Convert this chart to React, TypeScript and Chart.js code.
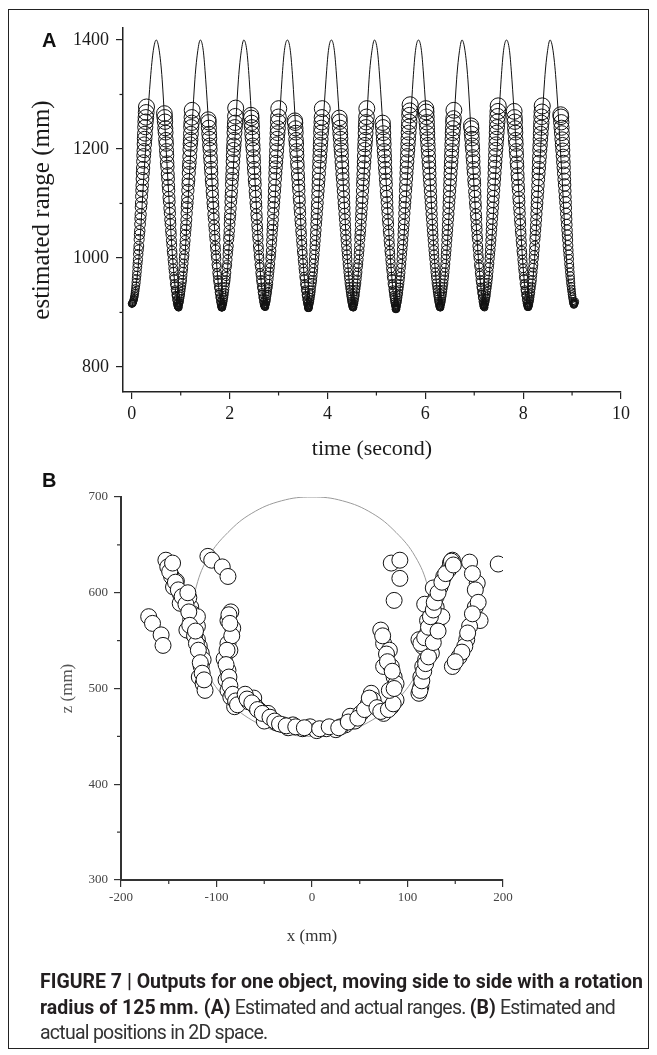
import React, { useEffect, useRef } from "react";
import { Chart, registerables } from "chart.js";

Chart.register(...registerables);

// ---------------- Panel A: range vs time ----------------
// actual range (line)
const lineTime = [
  0.0, 0.13, 0.25, 0.38, 0.44, 0.5, 0.56, 0.62, 0.73, 0.85, 0.96,
  1.07, 1.18, 1.29, 1.35, 1.4, 1.46, 1.51, 1.63, 1.74, 1.85,
  1.96, 2.07, 2.18, 2.24, 2.29, 2.35, 2.4, 2.51, 2.62, 2.73,
  2.84, 2.96, 3.07, 3.12, 3.18, 3.24, 3.29, 3.4, 3.51, 3.62,
  3.74, 3.85, 3.97, 4.02, 4.08, 4.14, 4.19, 4.31, 4.42, 4.53,
  4.64, 4.75, 4.85, 4.91, 4.96, 5.02, 5.07, 5.19, 5.3, 5.41,
  5.52, 5.64, 5.75, 5.8, 5.86, 5.92, 5.97, 6.09, 6.2, 6.31,
  6.42, 6.53, 6.64, 6.7, 6.75, 6.81, 6.87, 6.98, 7.1, 7.21,
  7.32, 7.44, 7.55, 7.6, 7.66, 7.72, 7.77, 7.89, 8.0, 8.11,
  8.22, 8.33, 8.44, 8.5, 8.55, 8.61, 8.67, 8.79, 8.9, 9.02,
];
const lineRange = [
  908, 982, 1155, 1328, 1381, 1400, 1381, 1328, 1155, 982, 907,
  982, 1155, 1328, 1381, 1400, 1381, 1328, 1155, 982, 906,
  982, 1155, 1328, 1381, 1400, 1381, 1328, 1155, 982, 908,
  982, 1155, 1328, 1381, 1400, 1381, 1328, 1155, 982, 905,
  982, 1155, 1328, 1381, 1400, 1381, 1328, 1155, 982, 907,
  982, 1155, 1328, 1381, 1400, 1381, 1328, 1155, 982, 903,
  982, 1155, 1328, 1381, 1400, 1381, 1328, 1155, 982, 907,
  982, 1155, 1328, 1381, 1400, 1381, 1328, 1155, 982, 907,
  982, 1155, 1328, 1381, 1400, 1381, 1328, 1155, 982, 906,
  982, 1155, 1328, 1381, 1400, 1381, 1328, 1155, 982, 908,
];

// estimated range (circles): each sweep is a run of samples taken every SAMPLE_INTERVAL s
const SAMPLE_INTERVAL = 0.00625;
const sweepStart = [
  0.0, 0.666, 0.94, 1.563, 1.83, 2.436, 2.71, 3.333, 3.6, 4.243,
  4.51, 5.129, 5.39, 6.01, 6.29, 6.935, 7.19, 7.816, 8.09, 8.766,
];
const sweepRange = [
  [916, 916, 917, 918, 919, 921, 923, 925, 928, 931, 935, 939, 944, 949, 955, 962, 968, 975, 983, 990, 997, 1007, 1015, 1022, 1034, 1043, 1050, 1062, 1072, 1080, 1093, 1101, 1113, 1124, 1133, 1145, 1156, 1165, 1177, 1188, 1197, 1209, 1219, 1228, 1240, 1250, 1258, 1267, 1277],
  [1265, 1258, 1250, 1238, 1230, 1217, 1209, 1197, 1188, 1175, 1167, 1154, 1145, 1133, 1124, 1111, 1103, 1091, 1082, 1070, 1062, 1050, 1043, 1032, 1024, 1013, 1007, 997, 990, 981, 975, 966, 962, 953, 949, 942, 939, 932, 930, 924, 922, 917, 916, 913, 911, 910, 909, 909],
  [911, 911, 912, 913, 915, 917, 919, 922, 926, 930, 934, 939, 944, 949, 955, 960, 968, 975, 981, 990, 999, 1005, 1015, 1024, 1032, 1043, 1052, 1060, 1070, 1082, 1093, 1101, 1111, 1124, 1135, 1143, 1156, 1167, 1175, 1186, 1199, 1209, 1217, 1228, 1240, 1248, 1258, 1271],
  [1254, 1249, 1239, 1228, 1219, 1207, 1199, 1186, 1177, 1165, 1156, 1143, 1135, 1122, 1113, 1101, 1093, 1080, 1072, 1060, 1052, 1041, 1034, 1022, 1015, 1005, 999, 988, 983, 973, 968, 960, 955, 947, 944, 937, 934, 928, 926, 920, 919, 915, 913, 911, 910, 909, 909],
  [909, 909, 910, 911, 913, 915, 917, 920, 924, 928, 932, 937, 942, 948, 955, 960, 966, 973, 983, 988, 997, 1007, 1015, 1022, 1034, 1041, 1050, 1062, 1072, 1080, 1091, 1103, 1113, 1122, 1135, 1145, 1154, 1165, 1177, 1188, 1199, 1207, 1217, 1230, 1240, 1248, 1260, 1275],
  [1262, 1257, 1248, 1240, 1228, 1219, 1207, 1199, 1186, 1177, 1165, 1156, 1143, 1135, 1122, 1113, 1101, 1093, 1080, 1072, 1060, 1052, 1041, 1034, 1022, 1015, 1005, 999, 988, 983, 973, 968, 960, 955, 947, 944, 937, 934, 928, 926, 920, 919, 915, 914, 912, 911, 910, 910],
  [911, 911, 912, 913, 915, 916, 919, 921, 925, 930, 934, 938, 944, 947, 953, 961, 968, 975, 982, 989, 999, 1005, 1013, 1024, 1033, 1043, 1052, 1060, 1070, 1082, 1093, 1102, 1112, 1123, 1133, 1145, 1156, 1166, 1176, 1186, 1197, 1209, 1219, 1229, 1238, 1250, 1259, 1274],
  [1252, 1248, 1238, 1230, 1217, 1209, 1197, 1188, 1175, 1167, 1154, 1145, 1133, 1124, 1111, 1103, 1091, 1082, 1070, 1062, 1050, 1043, 1032, 1024, 1013, 1007, 997, 990, 981, 975, 966, 962, 953, 949, 942, 939, 932, 930, 924, 922, 917, 916, 913, 911, 909, 908, 908],
  [908, 908, 909, 911, 913, 915, 918, 920, 924, 928, 933, 937, 942, 949, 955, 960, 967, 974, 981, 990, 998, 1006, 1015, 1023, 1032, 1042, 1051, 1062, 1071, 1081, 1092, 1101, 1113, 1123, 1134, 1144, 1155, 1167, 1177, 1187, 1198, 1208, 1218, 1230, 1239, 1249, 1258, 1274],
  [1257, 1250, 1239, 1228, 1219, 1207, 1198, 1188, 1176, 1166, 1154, 1145, 1134, 1123, 1112, 1101, 1092, 1081, 1071, 1061, 1052, 1042, 1033, 1023, 1014, 1006, 998, 989, 982, 974, 967, 961, 954, 948, 943, 938, 933, 929, 925, 921, 918, 916, 913, 912, 910, 909, 909],
  [910, 910, 911, 912, 914, 916, 917, 921, 925, 929, 932, 938, 943, 948, 954, 961, 968, 974, 983, 989, 997, 1006, 1014, 1023, 1034, 1042, 1050, 1061, 1072, 1081, 1091, 1102, 1111, 1123, 1135, 1144, 1154, 1166, 1176, 1187, 1199, 1208, 1217, 1229, 1240, 1249, 1259, 1274],
  [1248, 1240, 1229, 1218, 1209, 1197, 1187, 1177, 1165, 1156, 1144, 1135, 1122, 1113, 1102, 1091, 1082, 1070, 1062, 1050, 1043, 1032, 1024, 1013, 1007, 997, 990, 981, 975, 966, 962, 953, 949, 942, 938, 932, 928, 924, 920, 917, 914, 912, 910, 908, 907, 906],
  [906, 906, 907, 909, 911, 913, 917, 919, 923, 927, 932, 936, 942, 947, 953, 960, 966, 973, 982, 989, 998, 1007, 1016, 1024, 1033, 1043, 1052, 1061, 1071, 1082, 1093, 1102, 1112, 1124, 1134, 1145, 1156, 1166, 1177, 1188, 1198, 1209, 1219, 1230, 1241, 1250, 1262, 1270, 1281],
  [1274, 1268, 1259, 1249, 1239, 1229, 1218, 1208, 1198, 1187, 1176, 1166, 1155, 1144, 1134, 1123, 1112, 1102, 1092, 1081, 1071, 1061, 1051, 1042, 1033, 1023, 1014, 1006, 998, 989, 982, 974, 967, 961, 954, 948, 943, 938, 933, 929, 925, 921, 918, 916, 913, 911, 910, 909, 909],
  [910, 910, 911, 912, 914, 916, 918, 921, 925, 929, 933, 938, 943, 948, 954, 961, 967, 974, 982, 989, 998, 1006, 1014, 1023, 1033, 1042, 1051, 1061, 1071, 1081, 1092, 1102, 1112, 1123, 1134, 1144, 1155, 1166, 1176, 1187, 1197, 1208, 1218, 1229, 1238, 1249, 1256, 1271],
  [1243, 1238, 1228, 1219, 1207, 1199, 1186, 1177, 1165, 1156, 1143, 1135, 1122, 1113, 1101, 1093, 1080, 1072, 1060, 1052, 1041, 1034, 1022, 1015, 1005, 999, 988, 983, 973, 968, 960, 955, 947, 944, 937, 934, 928, 926, 920, 918, 915, 913, 911, 910, 909],
  [911, 911, 912, 913, 915, 917, 919, 922, 926, 929, 933, 939, 944, 949, 955, 961, 967, 975, 983, 990, 999, 1007, 1015, 1024, 1033, 1043, 1052, 1062, 1072, 1082, 1092, 1103, 1113, 1124, 1135, 1145, 1156, 1167, 1177, 1188, 1199, 1209, 1219, 1230, 1240, 1250, 1260, 1269, 1279],
  [1269, 1258, 1250, 1238, 1230, 1217, 1209, 1197, 1188, 1175, 1167, 1154, 1145, 1133, 1124, 1111, 1103, 1091, 1082, 1070, 1062, 1050, 1043, 1032, 1024, 1013, 1007, 997, 990, 981, 975, 966, 962, 953, 949, 942, 939, 932, 930, 924, 922, 917, 916, 913, 912, 911, 910, 910],
  [910, 910, 911, 912, 913, 915, 918, 921, 924, 928, 933, 937, 943, 948, 954, 960, 968, 974, 982, 988, 998, 1005, 1014, 1022, 1034, 1041, 1051, 1060, 1070, 1081, 1092, 1101, 1112, 1122, 1133, 1144, 1155, 1165, 1176, 1186, 1198, 1207, 1218, 1228, 1239, 1248, 1259, 1268, 1279],
  [1263, 1259, 1249, 1239, 1229, 1218, 1208, 1198, 1187, 1176, 1166, 1155, 1144, 1134, 1123, 1112, 1102, 1092, 1081, 1071, 1061, 1051, 1042, 1033, 1023, 1014, 1006, 998, 989, 982, 974, 967, 961, 954, 948, 943, 938, 933, 929, 925, 921, 918, 916, 914, 915, 916, 918, 920],
];
const timeTicks = [0, 2, 4, 6, 8, 10];
const timeMinorTicks = [1, 3, 5, 7, 9];
const rangeTicks = [800, 1000, 1200, 1400];
const rangeMinorTicks = [900, 1100, 1300];

// ---------------- Panel B: positions in 2D ----------------
// actual path (rotation radius 125 mm)
const pathX = [125, 121, 108, 88, 63, 32, 0, -32, -63, -88, -108, -121, -125, -121, -108, -88, -63, -32, 0, 32, 63, 88, 108, 121, 125];
const pathZ = [575, 607, 638, 663, 683, 696, 700, 696, 683, 663, 638, 607, 575, 543, 513, 487, 467, 454, 450, 454, 467, 487, 513, 543, 575];
// estimated positions
const estX = [
  -171, -167, -158, -156,
  -153, -151, -147, -145, -138, -134, -127, -125, -127, -125, -120, -118, -116, -114, -116, -118, -114, -112, -131, -120, -138, -120, -142, -129,
  -149, -143, -140, -136, -132, -129, -128, -123, -121, -119, -117, -115, -113, -122, -130, -146,
  -109, -105, -94, -88,
  -85, -88, -83, -88, -92, -88, -90, -88, -85, -81, -86, -84,
  -87, -86, -89, -90, -87, -86, -83, -80, -78,
  -61, -59, -46, -41, -37, -20, -2, 15, 35, 40, 51, 59, 62, 64, 75, 83, 88, -55, -48, -30, -10, 5, 25, 45, 30, -25, -50, -70, -66,
  -68, -63, -57, -52, -44, -39, -34, -27, -17, -8, 8, 18, 28, 38, 48, 55, 60, 68, 72, 80, 85,
  72, 75, 81, 75, 83, 86, 88, 81, 74, 78, 79, 84, 86,
  83, 92, 92, 86,
  112, 114, 114, 116, 119, 112, 116, 121, 121, 125, 130, 130, 134, 138, 143, 145, 147, 125, 130, 136, 118, 127,
  113, 115, 117, 119, 114, 118, 122, 124, 127, 128, 132, 136, 140, 146, 148, 122, 127, 132,
  165, 173, 171, 171, 176, 165, 162, 160, 154, 147, 195,
  168, 174, 168, 163, 157, 150,
];
const estZ = [
  575, 568, 556, 545,
  634, 627, 617, 606, 599, 592, 585, 578, 572, 558, 551, 544, 537, 530, 523, 512, 505, 498, 561, 565, 589, 575, 612, 595,
  622, 611, 603, 596, 588, 580, 566, 555, 547, 540, 527, 516, 509, 560, 600, 631,
  638, 634, 627, 617,
  580, 571, 563, 547, 531, 519, 509, 498, 491, 481, 540, 555,
  577, 568, 540, 525, 512, 503, 494, 487, 483,
  490, 481, 474, 467, 464, 462, 460, 458, 462, 471, 474, 484, 495, 488, 474, 481, 488, 477, 470, 462, 458, 456, 457, 466, 460, 459, 466, 494, 486,
  489, 485, 478, 474, 470, 466, 463, 461, 460, 459, 458, 460, 459, 465, 469, 478, 490, 480, 476, 478, 484,
  561, 547, 540, 523, 523, 512, 505, 498, 555, 536, 528, 518, 500,
  631, 634, 615, 592,
  495, 502, 512, 523, 530, 551, 544, 558, 571, 578, 585, 596, 606, 617, 624, 631, 634, 537, 565, 575, 588, 605,
  498, 508, 518, 526, 547, 553, 564, 575, 582, 590, 600, 611, 620, 633, 629, 533, 548, 560,
  632, 610, 603, 585, 571, 565, 551, 544, 533, 523, 630,
  620, 590, 578, 558, 538, 528,
];
const xTicks = [-200, -100, 0, 100, 200];
const xMinorTicks = [-150, -50, 50, 150];
const zTicks = [300, 400, 500, 600, 700];
const zMinorTicks = [350, 450, 550, 650];

const SERIF = '"Liberation Serif", "Times New Roman", serif';
const plainLabel = (v: any) => String(v);

const minorTickPlugin = {
  id: "minorTicks",
  afterDraw(chart: any, _args: any, opts: any) {
    const ctx = chart.ctx;
    const xs = chart.scales.x;
    const ys = chart.scales.y;
    ctx.save();
    ctx.strokeStyle = opts.color;
    ctx.lineWidth = opts.width;
    for (const v of opts.x) {
      const p = xs.getPixelForValue(v);
      ctx.beginPath();
      ctx.moveTo(p, xs.top);
      ctx.lineTo(p, xs.top + opts.length);
      ctx.stroke();
    }
    for (const v of opts.y) {
      const p = ys.getPixelForValue(v);
      ctx.beginPath();
      ctx.moveTo(ys.right - opts.length, p);
      ctx.lineTo(ys.right, p);
      ctx.stroke();
    }
    ctx.restore();
  },
};

function configA(): any {
  const linePts = lineTime.map((t, i) => ({ x: t, y: lineRange[i] }));
  const estPts: { x: number; y: number }[] = [];
  sweepRange.forEach((row, k) => {
    row.forEach((v, i) => {
      estPts.push({ x: sweepStart[k] + i * SAMPLE_INTERVAL, y: v });
    });
  });
  return {
    type: "scatter",
    data: {
      datasets: [
        {
          type: "line",
          data: linePts,
          showLine: true,
          borderColor: "#111",
          borderWidth: 1,
          pointRadius: 0,
          fill: false,
          cubicInterpolationMode: "monotone",
          order: 2,
        },
        {
          type: "scatter",
          data: estPts,
          borderColor: "#111",
          borderWidth: 1,
          backgroundColor: "rgba(255,255,255,0)",
          pointRadius: (c: any) => {
            const v = c.raw ? c.raw.y : 1000;
            return 3.5 + (4.5 * (v - 910)) / 365;
          },
          order: 1,
        },
      ],
    },
    options: {
      responsive: false,
      animation: false,
      devicePixelRatio: 1,
      events: [],
      layout: { padding: { left: 23, top: 28, right: 36, bottom: 8 } },
      plugins: {
        legend: { display: false },
        tooltip: { enabled: false },
        minorTicks: { x: timeMinorTicks, y: rangeMinorTicks, length: 3.5, color: "#222", width: 1.2 },
      },
      scales: {
        x: {
          type: "linear",
          min: -0.18,
          max: 10,
          afterBuildTicks: (s: any) => {
            s.ticks = timeTicks.map((v) => ({ value: v }));
          },
          afterFit: (s: any) => {
            s.height = 70;
          },
          grid: { drawOnChartArea: false, drawTicks: true, tickLength: 7, color: "#222", lineWidth: 1.2 },
          border: { display: true, color: "#222", width: 1.5 },
          ticks: { font: { family: SERIF, size: 18 }, color: "#1a1a1a", padding: 4, maxRotation: 0, autoSkip: false, callback: plainLabel },
          title: { display: true, text: "time (second)", font: { family: SERIF, size: 22 }, color: "#1a1a1a", padding: { top: 0, bottom: 0 } },
        },
        y: {
          type: "linear",
          min: 754,
          max: 1422,
          afterBuildTicks: (s: any) => {
            s.ticks = rangeTicks.map((v) => ({ value: v }));
          },
          afterFit: (s: any) => {
            s.width = 100;
          },
          grid: { drawOnChartArea: false, drawTicks: true, tickLength: 7, color: "#222", lineWidth: 1.2 },
          border: { display: true, color: "#222", width: 1.5 },
          ticks: { font: { family: SERIF, size: 18 }, color: "#1a1a1a", padding: 7, autoSkip: false, callback: plainLabel },
          title: { display: true, text: "estimated range (mm)", font: { family: SERIF, size: 25 }, color: "#1a1a1a", padding: { top: 4, bottom: 0 } },
        },
      },
    },
    plugins: [minorTickPlugin],
  };
}

function configB(): any {
  const pathPts = pathX.map((x, i) => ({ x, y: pathZ[i] }));
  const estPts = estX.map((x, i) => ({ x, y: estZ[i] }));
  return {
    type: "scatter",
    data: {
      datasets: [
        {
          type: "line",
          data: pathPts,
          showLine: true,
          borderColor: "#9a9a9a",
          borderWidth: 1,
          pointRadius: 0,
          fill: false,
          tension: 0.4,
          order: 2,
        },
        {
          type: "scatter",
          data: estPts,
          borderColor: "#111",
          borderWidth: 1,
          backgroundColor: "#ffffff",
          pointRadius: 8,
          clip: 0,
          order: 1,
        },
      ],
    },
    options: {
      responsive: false,
      animation: false,
      devicePixelRatio: 1,
      events: [],
      layout: { padding: { left: 50, top: 37, right: 154, bottom: 10 } },
      plugins: {
        legend: { display: false },
        tooltip: { enabled: false },
        minorTicks: { x: xMinorTicks, y: zMinorTicks, length: 4, color: "#333", width: 1.2 },
      },
      scales: {
        x: {
          type: "linear",
          min: -200,
          max: 200,
          afterBuildTicks: (s: any) => {
            s.ticks = xTicks.map((v) => ({ value: v }));
          },
          afterFit: (s: any) => {
            s.height = 75;
          },
          grid: { drawOnChartArea: false, drawTicks: true, tickLength: 7, color: "#333", lineWidth: 1.2 },
          border: { display: true, color: "#333", width: 2 },
          ticks: { font: { family: SERIF, size: 13 }, color: "#444", padding: 3, maxRotation: 0, autoSkip: false, callback: plainLabel },
          title: { display: true, text: "x (mm)", font: { family: SERIF, size: 17 }, color: "#333", padding: { top: 0, bottom: 8 } },
        },
        y: {
          type: "linear",
          min: 300,
          max: 700,
          afterBuildTicks: (s: any) => {
            s.ticks = zTicks.map((v) => ({ value: v }));
          },
          afterFit: (s: any) => {
            s.width = 71;
          },
          grid: { drawOnChartArea: false, drawTicks: true, tickLength: 7, color: "#333", lineWidth: 1.2 },
          border: { display: true, color: "#333", width: 2 },
          ticks: { font: { family: SERIF, size: 13 }, color: "#444", padding: 6, autoSkip: false, callback: plainLabel },
          title: { display: true, text: "z (mm)", font: { family: SERIF, size: 17 }, color: "#555", padding: { top: 7, bottom: 0 } },
        },
      },
    },
    plugins: [minorTickPlugin],
  };
}

const captionFont = 'Roboto, "Liberation Sans", Arial, sans-serif';

export default function App() {
  const refA = useRef<HTMLCanvasElement>(null);
  const refB = useRef<HTMLCanvasElement>(null);

  useEffect(() => {
    const a = new Chart(refA.current as HTMLCanvasElement, configA());
    const b = new Chart(refB.current as HTMLCanvasElement, configB());
    return () => {
      a.destroy();
      b.destroy();
    };
  }, []);

  const panelLabel: React.CSSProperties = {
    position: "absolute",
    left: 42,
    fontFamily: '"Liberation Sans", Arial, sans-serif',
    fontWeight: "bold",
    fontSize: 20,
    lineHeight: "20px",
    color: "#111",
  };
  const capLine: React.CSSProperties = {
    position: "absolute",
    left: 40,
    whiteSpace: "nowrap",
    fontFamily: captionFont,
    fontSize: 19.5,
    lineHeight: "24px",
    color: "#231f20",
  };
  const reg: React.CSSProperties = { fontWeight: 400, letterSpacing: "-0.75px", color: "#333" };

  return (
    <div style={{ position: "absolute", left: 0, top: 0, width: 657, height: 1055, background: "#fff", overflow: "hidden" }}>
      <div
        style={{
          position: "absolute",
          left: 8,
          top: 9,
          width: 641,
          height: 1040,
          border: "1.5px solid #222",
          boxSizing: "border-box",
        }}
      />
      <canvas ref={refA} width={657} height={470} style={{ position: "absolute", left: 0, top: 0, width: 657, height: 470 }} />
      <canvas ref={refB} width={657} height={505} style={{ position: "absolute", left: 0, top: 460, width: 657, height: 505 }} />
      <div style={{ ...panelLabel, top: 30 }}>A</div>
      <div style={{ ...panelLabel, top: 470 }}>B</div>
      <div style={{ ...capLine, top: 970, fontWeight: 700 }}>
        FIGURE 7 | Outputs for one object, moving side to side with a rotation
      </div>
      <div style={{ ...capLine, top: 996 }}>
        <b>radius of 125&#8201;mm. (A)</b>
        <span style={reg}> Estimated and actual ranges. </span>
        <b>(B)</b>
        <span style={reg}> Estimated and</span>
      </div>
      <div style={{ ...capLine, top: 1021 }}>
        <span style={reg}>actual positions in 2D space.</span>
      </div>
    </div>
  );
}
